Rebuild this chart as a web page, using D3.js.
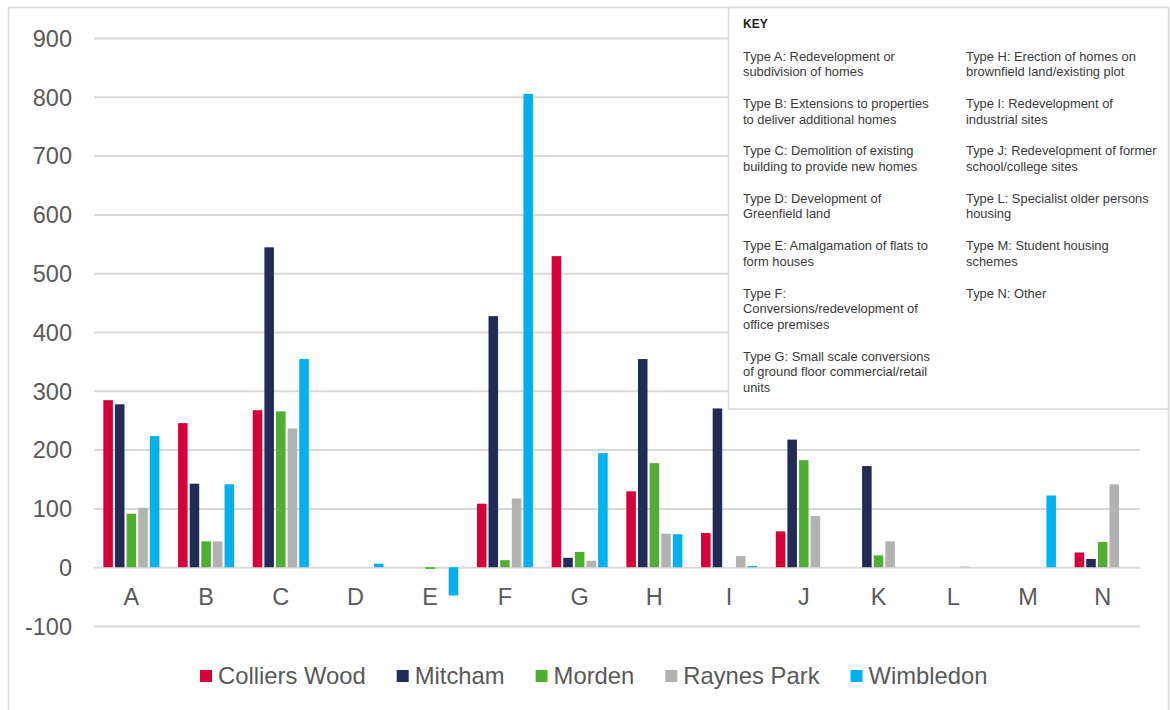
<!DOCTYPE html>
<html>
<head>
<meta charset="utf-8">
<script src="https://cdn.jsdelivr.net/npm/d3@7"></script>
<style>
  html, body { margin: 0; padding: 0; background: #fff; }
  svg { display: block; }
  text { font-family: "Liberation Sans", Arial, sans-serif; }
</style>
</head>
<body>
<svg id="chart" width="1170" height="710"></svg>
<script>
const categories = ["A","B","C","D","E","F","G","H","I","J","K","L","M","N"];
const seriesNames = ["Colliers Wood","Mitcham","Morden","Raynes Park","Wimbledon"];
const seriesColors = ["#d5003a","#222a56","#52ad33","#b2b2b2","#00b0f0"];
const colliersWood = [284,245,267,0,0,108,529,129,58,61,0,0,0,25];
const mitcham      = [277,142,544,0,0,427,16,354,270,217,172,0,0,14];
const morden       = [91,44,265,0,-3,12,26,177,0,182,20,0,0,43];
const raynesPark   = [101,44,236,0,0,117,11,57,19,87,44,1,0,141];
const wimbledon    = [223,141,354,6,-48,805,194,56,2,0,0,0,122,0];
const yTicks = [-100,0,100,200,300,400,500,600,700,800,900];
const keyTitle = "KEY";
const keyCol1 = [
  ["Type A: Redevelopment or","subdivision of homes"],
  ["Type B: Extensions to properties","to deliver additional homes"],
  ["Type C: Demolition of existing","building to provide new homes"],
  ["Type D: Development of","Greenfield land"],
  ["Type E: Amalgamation of flats to","form houses"],
  ["Type F:","Conversions/redevelopment of","office premises"],
  ["Type G: Small scale conversions","of ground floor commercial/retail","units"]
];
const keyCol2 = [
  ["Type H: Erection of homes on","brownfield land/existing plot"],
  ["Type I: Redevelopment of","industrial sites"],
  ["Type J: Redevelopment of former","school/college sites"],
  ["Type L: Specialist older persons","housing"],
  ["Type M: Student housing","schemes"],
  ["Type N: Other"]
];

const seriesValues = [colliersWood, mitcham, morden, raynesPark, wimbledon];
const svg = d3.select("#chart");

// outer frame
svg.append("rect").attr("x",8.5).attr("y",7.5).attr("width",1160).attr("height",740)
  .attr("fill","none").attr("stroke","#d9d9d9").attr("stroke-width",1.5);

const x0 = d3.scaleBand().domain(categories).range([94,1140]).paddingInner(0.25).paddingOuter(0.125);
const x1 = d3.scaleBand().domain(seriesNames).range([0, x0.bandwidth()]).paddingInner(0.18).paddingOuter(0);
const y = d3.scaleLinear().domain([-100,900]).range([626,38]);

// gridlines
const yAxis = d3.axisLeft(y).tickValues(yTicks).tickSize(-(1140-94))
  .tickFormat(d => String(d)).tickPadding(22);
const gy = svg.append("g").attr("transform","translate(94,0)").call(yAxis);
gy.select(".domain").remove();
gy.selectAll(".tick line").attr("stroke","#d9d9d9").attr("stroke-width",2);
gy.selectAll(".tick text").attr("fill","#595959").style("font-size","23.5px")
  .attr("dy","0.35em");

// bars
const groups = svg.append("g").selectAll("g").data(categories).join("g")
  .attr("transform", d => `translate(${x0(d)},0)`);
groups.selectAll("rect")
  .data((c, ci) => seriesNames.map((s, si) => ({s, si, v: seriesValues[si][ci]})))
  .join("rect")
  .attr("x", d => x1(d.s))
  .attr("width", x1.bandwidth())
  .attr("y", d => y(Math.max(0, d.v)))
  .attr("height", d => Math.abs(y(d.v) - y(0)))
  .attr("fill", d => seriesColors[d.si]);

// x axis labels
const xAxis = d3.axisBottom(x0).tickSize(0).tickPadding(0);
const gx = svg.append("g").attr("transform","translate(0,597)").call(xAxis);
gx.select(".domain").remove();
gx.selectAll(".tick text").attr("fill","#595959").style("font-size","23.5px").attr("dy","0.35em").attr("y",0);

// legend
const leg = svg.append("g");
let lx = 200;
seriesNames.forEach((s, i) => {
  leg.append("rect").attr("x", lx).attr("y", 670).attr("width", 12).attr("height", 12).attr("fill", seriesColors[i]);
  const t = leg.append("text").attr("x", lx + 18).attr("y", 676).attr("dy","0.35em")
    .attr("fill","#595959").style("font-size","23.8px").text(s);
  const w = t.node().getComputedTextLength();
  lx = lx + 18 + w + 31;
});

// key box
const key = svg.append("g");
key.append("rect").attr("x",728.5).attr("y",7.5).attr("width",440).attr("height",401.5)
  .attr("fill","#fff").attr("stroke","#d9d9d9").attr("stroke-width",1.5);
key.append("text").attr("x",743).attr("y",24).attr("dy","0.35em")
  .attr("fill","#222").style("font-size","12px").style("font-weight","bold").text(keyTitle);
function drawCol(col, xPos) {
  let yy = 56;
  col.forEach(block => {
    block.forEach((line, li) => {
      key.append("text").attr("x", xPos).attr("y", yy + li*15.7).attr("dy","0.35em")
        .attr("fill","#3a3a3a").style("font-size","12.9px").text(line);
    });
    yy += block.length*15.7 + 16;
  });
}
drawCol(keyCol1, 743);
drawCol(keyCol2, 966);
</script>
</body>
</html>
